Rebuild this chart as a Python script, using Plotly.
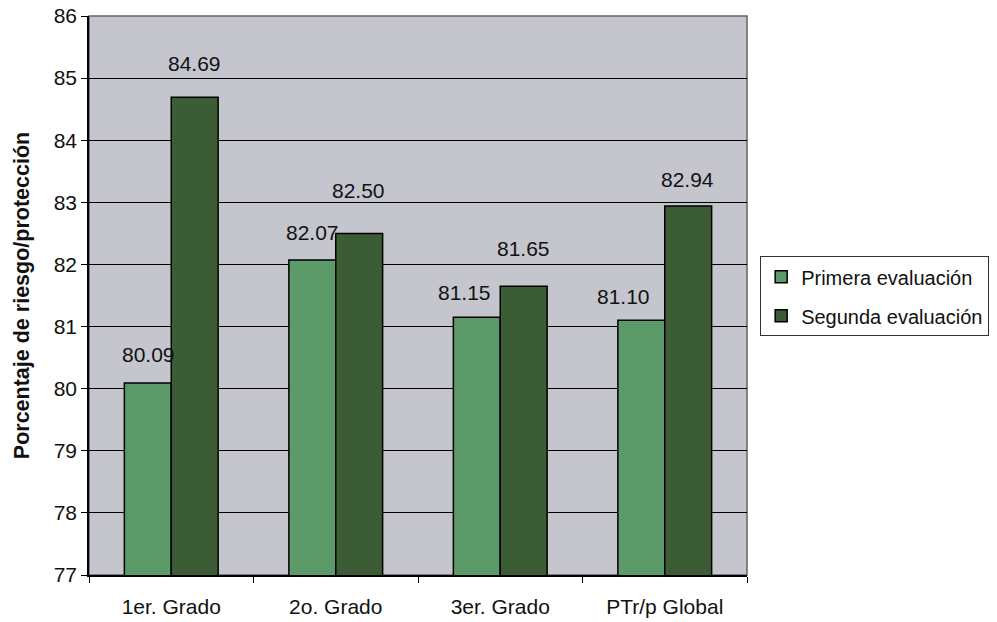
import plotly.graph_objects as go

categorias = ["1er. Grado", "2o. Grado", "3er. Grado", "PTr/p Global"]
primera = [80.09, 82.07, 81.15, 81.10]
segunda = [84.69, 82.50, 81.65, 82.94]
serie_nombres = ["Primera evaluación", "Segunda evaluación"]
y_ticks = [77, 78, 79, 80, 81, 82, 83, 84, 85, 86]

# label placement style (pixel offsets above bar tops, as in the original chart)
offs_primera = [29, 28, 25, 24]
offs_segunda = [34, 43, 38, 27]
xoffs_primera = [-23, -23, -36, -41]
xoffs_segunda = [23, 23, 23, 23]

color_primera = "#5c9b69"
color_segunda = "#3b5c34"

fig = go.Figure()
fig.add_trace(go.Bar(x=categorias, y=primera, name=serie_nombres[0], legendgroup="a",
                     marker=dict(color=color_primera, line=dict(color="black", width=1.5))))
fig.add_trace(go.Bar(x=categorias, y=segunda, name=serie_nombres[1], legendgroup="b",
                     marker=dict(color=color_segunda, line=dict(color="black", width=1.5))))

font = "Liberation Sans, Arial, sans-serif"
for vals, offs, xoffs in ((primera, offs_primera, xoffs_primera),
                          (segunda, offs_segunda, xoffs_segunda)):
    for c, v, o, xo in zip(categorias, vals, offs, xoffs):
        fig.add_annotation(x=c, y=v, text=f"{v:.2f}", showarrow=False,
                           xshift=xo, yshift=o, yanchor="middle",
                           font=dict(size=21, color="#111", family=font))

fig.update_layout(
    width=997, height=622,
    margin=dict(l=89, r=250, t=16, b=47, autoexpand=False),
    paper_bgcolor="white", plot_bgcolor="#c5c6cd",
    barmode="group", bargap=0.43, bargroupgap=0,
    font=dict(family=font, color="#111", size=21),
    legend=dict(x=1.02, y=0.57, xanchor="left", yanchor="top",
                bgcolor="white", bordercolor="#333", borderwidth=1,
                font=dict(size=20), itemwidth=30, traceorder="grouped",
                tracegroupgap=10),
    showlegend=True,
)
fig.update_xaxes(showline=True, linecolor="black", linewidth=1.5,
                 ticks="outside", tickson="boundaries", ticklen=6, tickcolor="black",
                 tickfont=dict(size=21), ticklabelstandoff=12, automargin=False)
fig.update_yaxes(range=[77, 86], tickvals=y_ticks, showgrid=True, gridcolor="black",
                 gridwidth=1, showline=True, linecolor="black", linewidth=1.5,
                 ticks="outside", ticklen=6, tickcolor="black", tickfont=dict(size=21),
                 zeroline=False, automargin=False,
                 title=dict(text="<b>Porcentaje de riesgo/protección</b>",
                            font=dict(size=21.5), standoff=18))
fig.add_shape(type="rect", xref="paper", yref="paper", x0=0, x1=1, y0=0, y1=1,
              line=dict(color="#666", width=1.5), layer="below")
fig.write_html("out.html")
